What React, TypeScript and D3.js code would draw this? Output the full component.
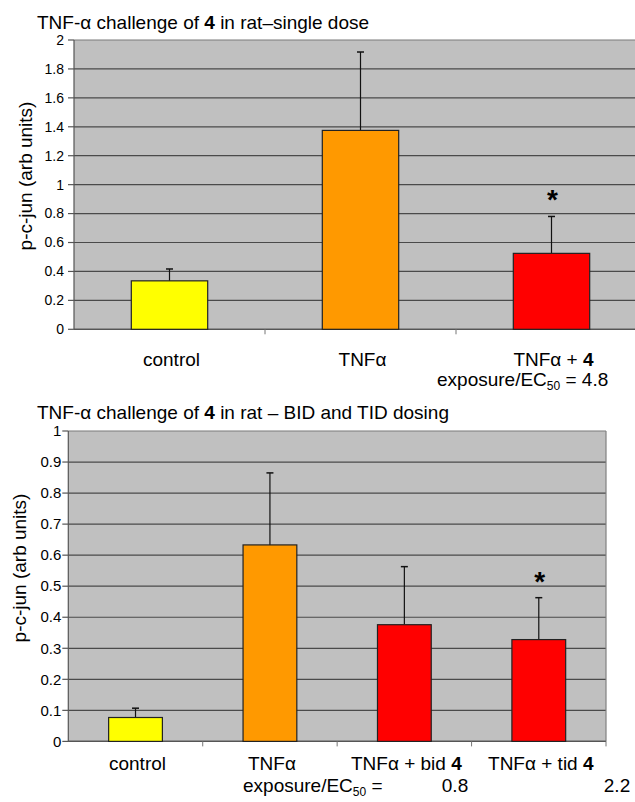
import React from "react";
import * as d3 from "d3";

// ---------- data ----------
const topCategories = ["control", "TNFα", "TNFα + 4"];
const topMeans = [0.335, 1.375, 0.525];
const topErrors = [0.082, 0.542, 0.255];
const topSignificant = [false, false, true];
const topTicks = [0, 0.2, 0.4, 0.6, 0.8, 1, 1.2, 1.4, 1.6, 1.8, 2];
const topColors = ["#FFFF00", "#FF9900", "#FF0000"];
const topTitle = ["TNF-α challenge of ", "4", " in rat–single dose"];
const topExposure = ["4.8"];

const botCategories = ["control", "TNFα", "TNFα + bid 4", "TNFα + tid 4"];
const botMeans = [0.077, 0.633, 0.376, 0.328];
const botErrors = [0.03, 0.232, 0.187, 0.135];
const botSignificant = [false, false, false, true];
const botTicks = [0, 0.1, 0.2, 0.3, 0.4, 0.5, 0.6, 0.7, 0.8, 0.9, 1];
const botColors = ["#FFFF00", "#FF9900", "#FF0000", "#FF0000"];
const botTitle = ["TNF-α challenge of ", "4", " in rat – BID and TID dosing"];
const botExposure = ["0.8", "2.2"];

const yLabel = "p-c-jun (arb units)";
const FONT = "'Liberation Sans', Arial, Helvetica, sans-serif";

function CatLabel({ label, x, y }: { label: string; x: number; y: number }) {
  const bold = label.endsWith(" 4");
  const head = bold ? label.slice(0, -1) : label;
  return (
    <text x={x} y={y} textAnchor="middle" fontSize={19} fontFamily={FONT} fill="#000">
      {head}
      {bold && <tspan fontWeight="bold">4</tspan>}
    </text>
  );
}

function Panel(props: {
  cats: string[];
  means: number[];
  errs: number[];
  sig: boolean[];
  ticks: number[];
  colors: string[];
  title: string[];
  left: number;
  right: number;
  top: number;
  bottom: number;
  max: number;
  titleY: number;
  tickFont: number;
  tickGap: number;
  labelY: number;
  yLabelX: number;
  yLabelY: number;
  showRightBorder: boolean;
}) {
  const p = props;
  const x = d3.scaleBand<string>().domain(p.cats).range([p.left, p.right]).paddingInner(0).paddingOuter(0);
  const y = d3.scaleLinear().domain([0, p.max]).range([p.bottom, p.top]);
  const bw = x.bandwidth() * 0.4;
  const fmt = (v: number) => (v === 0 ? "0" : String(+v.toFixed(2)));
  return (
    <g>
      <text x={37} y={p.titleY} fontSize={19} fontFamily={FONT} fill="#000">
        {p.title[0]}
        <tspan fontWeight="bold">{p.title[1]}</tspan>
        {p.title[2]}
      </text>
      <rect x={p.left} y={p.top} width={p.right - p.left} height={p.bottom - p.top} fill="#C0C0C0" />
      {p.ticks.map((t) => (
        <line key={"g" + t} x1={p.left} x2={p.right} y1={y(t)} y2={y(t)} stroke={t === p.max ? "#7a7a7a" : "#4a4a4a"} strokeWidth={1.2} />
      ))}
      {p.showRightBorder && <line x1={p.right} x2={p.right} y1={p.top} y2={p.bottom} stroke="#808080" strokeWidth={1.2} />}
      {/* y axis */}
      <line x1={p.left} x2={p.left} y1={p.top} y2={p.bottom} stroke="#555" strokeWidth={1.2} />
      {p.ticks.map((t) => (
        <g key={"t" + t}>
          <line x1={p.left - 6} x2={p.left} y1={y(t)} y2={y(t)} stroke="#555" strokeWidth={1.2} />
          <text x={p.left - p.tickGap} y={y(t)} dy="0.35em" textAnchor="end" fontSize={p.tickFont} fontFamily={FONT} fill="#000">
            {fmt(t)}
          </text>
        </g>
      ))}
      {/* x axis */}
      <line x1={p.left} x2={p.right} y1={p.bottom} y2={p.bottom} stroke="#555" strokeWidth={1.2} />
      {p.cats.slice(1).map((c) => (
        <line key={"xt" + c} x1={x(c)!} x2={x(c)!} y1={p.bottom} y2={p.bottom + 5} stroke="#777" strokeWidth={1} />
      ))}
      <line x1={p.right} x2={p.right} y1={p.bottom} y2={p.bottom + 5} stroke="#777" strokeWidth={1} />
      {/* bars */}
      {p.cats.map((c, i) => {
        const cx = x(c)! + x.bandwidth() / 2;
        const yt = y(p.means[i]);
        const ye = y(p.means[i] + p.errs[i]);
        return (
          <g key={"b" + c}>
            <line x1={cx} x2={cx} y1={yt} y2={ye} stroke="#111" strokeWidth={1.2} />
            <line x1={cx - 3.5} x2={cx + 3.5} y1={ye} y2={ye} stroke="#111" strokeWidth={1.5} />
            <rect x={cx - bw / 2} y={yt} width={bw} height={p.bottom - yt} fill={p.colors[i]} stroke="#222" strokeWidth={1.2} />
            {p.sig[i] && (
              <text x={cx + 1} y={ye - 22 + 15} textAnchor="middle" fontSize={28} fontWeight="bold" fontFamily={FONT} fill="#000">
                *
              </text>
            )}
          </g>
        );
      })}
      {p.cats.map((c) => (
        <CatLabel key={"l" + c} label={c} x={x(c)! + x.bandwidth() / 2 + 2} y={p.labelY} />
      ))}
      <text
        transform={`translate(${p.yLabelX},${p.yLabelY}) rotate(-90)`}
        textAnchor="middle"
        dominantBaseline="central"
        fontSize={19}
        fontFamily={FONT}
        fill="#000"
      >
        {yLabel}
      </text>
    </g>
  );
}

function Exposure({ x, y, tail }: { x: number; y: number; tail: string }) {
  return (
    <text x={x} y={y} fontSize={19} fontFamily={FONT} fill="#000">
      exposure/EC
      <tspan fontSize={12} dy={4}>50</tspan>
      <tspan dy={-4}>{tail}</tspan>
    </text>
  );
}

export default function App() {
  return (
    <svg width={635} height={802} style={{ position: "absolute", left: 0, top: 0, background: "#fff" }}>
      <Panel
        cats={topCategories}
        means={topMeans}
        errs={topErrors}
        sig={topSignificant}
        ticks={topTicks}
        colors={topColors}
        title={topTitle}
        left={74}
        right={647}
        top={40}
        bottom={329.3}
        max={2}
        titleY={29}
        tickFont={14}
        tickGap={10}
        labelY={366}
        yLabelX={25.5}
        yLabelY={176}
        showRightBorder={false}
      />
      <Exposure x={437} y={386} tail={" = " + topExposure[0]} />
      <Panel
        cats={botCategories}
        means={botMeans}
        errs={botErrors}
        sig={botSignificant}
        ticks={botTicks}
        colors={botColors}
        title={botTitle}
        left={68.3}
        right={606}
        top={431}
        bottom={741.4}
        max={1}
        titleY={419}
        tickFont={15}
        tickGap={7}
        labelY={770}
        yLabelX={19.5}
        yLabelY={568}
        showRightBorder={true}
      />
      <Exposure x={243} y={792} tail=" =" />
      <text x={455} y={792} textAnchor="middle" fontSize={19} fontFamily={FONT} fill="#000">{botExposure[0]}</text>
      <text x={617} y={792} textAnchor="middle" fontSize={19} fontFamily={FONT} fill="#000">{botExposure[1]}</text>
    </svg>
  );
}
